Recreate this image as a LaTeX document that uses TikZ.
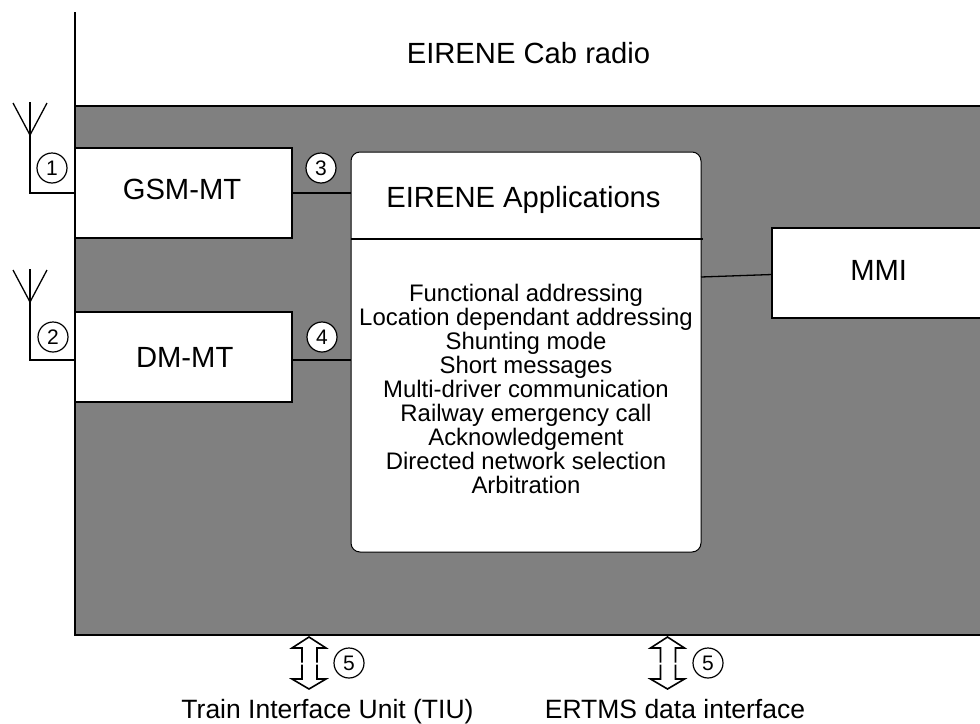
\documentclass[tikz,border=0pt]{standalone}
\usepackage{fontspec}
\setmainfont{Liberation Sans}
\definecolor{panel}{HTML}{808080}
\tikzset{
  ln/.style={draw=black,line width=1.6pt},
  boxw/.style={ln,fill=white,inner sep=0pt,outer sep=0pt,anchor=north west},
  num/.style={circle,draw=black,line width=1.2pt,fill=white,minimum size=30pt,inner sep=0pt,outer sep=0pt,font=\fontsize{21}{21}\selectfont},
  big/.style={font=\fontsize{29.2}{29.2}\selectfont,inner sep=0pt,anchor=base},
  lowr/.style={font=\fontsize{26.5}{26.5}\selectfont,inner sep=0pt,anchor=base},
  item/.style={font=\fontsize{23.9}{23.9}\selectfont,inner sep=0pt,anchor=base},
  ant/.style={draw=black,line width=1.3pt},
  harrow/.style={draw=black,line width=1.6pt,line join=miter}
}
\newcommand{\dblarrow}[1]{%
  \fill[white] (#1,637) -- (#1+17,648) -- (#1+8,648) -- (#1+8,679) -- (#1+17,679) -- (#1,689) -- (#1-17,679) -- (#1-7,679) -- (#1-7,648) -- (#1-17,648) -- cycle;
  \draw[harrow] (#1+8,662.5) -- (#1+8,648) -- (#1+17,648) -- (#1,637) -- (#1-17,648) -- (#1-7,648) -- (#1-7,662.5);
  \draw[harrow] (#1+8,664.5) -- (#1+8,679) -- (#1+17,679) -- (#1,689) -- (#1-17,679) -- (#1-7,679) -- (#1-7,664.5);
}
\begin{document}
\begin{tikzpicture}[x=1pt,y=-1pt]
\useasboundingbox (0,0) rectangle (980,723);
\clip (0,0) rectangle (980,723);
% panel
\fill[panel] (75,106) rectangle (985,635);
\coordinate (frameTop) at (75,12);
\coordinate (frameBL) at (75,635);
\coordinate (frameBR) at (985,635);
\coordinate (frameTL) at (75,106);
\coordinate (frameTR) at (985,106);
\draw[ln] (frameTop) -- (frameBL) -- (frameBR);
\draw[ln] (frameTL) -- (frameTR);
% boxes
\node[boxw,minimum width=217pt,minimum height=90pt] (gsm) at (75,148) {};
\node[boxw,minimum width=217pt,minimum height=90pt] (dm) at (75,312) {};
\node[boxw,minimum width=215pt,minimum height=90pt] (mmi) at (772,228) {};
\node[draw=black,line width=1pt,fill=white,rounded corners=9pt,anchor=north west,inner sep=0pt,outer sep=0pt,minimum width=350pt,minimum height=400pt] (apps) at (351,152) {};
\coordinate (divL) at (351,239);
\coordinate (divR) at (702.5,239);
\draw[ln] (divL) -- (divR);
% connectors
\coordinate (a1) at (351,193);
\coordinate (a2) at (351,360);
\coordinate (g1) at (292,193);
\coordinate (d1) at (292,360);
\draw[ln] (g1) -- (a1);
\draw[ln] (d1) -- (a2);
\coordinate (a3) at (701,277);
\coordinate (m1) at (772,274.5);
\draw[ln,line width=1.3pt] (a3) -- (m1);
% antennas
\coordinate (ga) at (75,193);
\coordinate (da) at (75,360);
\coordinate (gt) at (30,102);
\coordinate (dt) at (30,269);
\draw[ln] (ga) -| (gt);
\draw[ln] (da) -| (dt);
\draw[ant] (13,103) -- (30,135) -- (47,103);
\draw[ant] (13,270) -- (30,302) -- (47,270);
% numbered circles
\node[num] (n1) at (52,168) {1};
\node[num] (n2) at (53,337) {2};
\node[num] (n3) at (321,168) {3};
\node[num] (n4) at (322,337) {4};
\node[num] (n5a) at (349,663) {5};
\node[num] (n5b) at (708,663) {5};
% double arrows
\dblarrow{309}
\dblarrow{667.5}
% labels
\node[big] (t0) at (528.5,63) {EIRENE Cab radio};
\node[big] (t1) at (182,199) {GSM-MT};
\node[big] (t2) at (184.7,367) {DM-MT};
\node[big] (t3) at (878.7,280) {MMI};
\node[big] (t4) at (523.5,207) {EIRENE Applications};
\node[item] (l1) at (526,301) {Functional addressing};
\node[item] (l2) at (526,325) {Location dependant addressing};
\node[item] (l3) at (526,349) {Shunting mode};
\node[item] (l4) at (526,373) {Short messages};
\node[item] (l5) at (526,397.5) {Multi-driver communication};
\node[item] (l6) at (526,421.5) {Railway emergency call};
\node[item] (l7) at (526,445.5) {Acknowledgement};
\node[item] (l8) at (526,469.5) {Directed network selection};
\node[item] (l9) at (526,493) {Arbitration};
\node[lowr] (b1) at (327.5,718) {Train Interface Unit (TIU)};
\node[lowr] (b2) at (675,718) {ERTMS data interface};
\end{tikzpicture}
\end{document}
